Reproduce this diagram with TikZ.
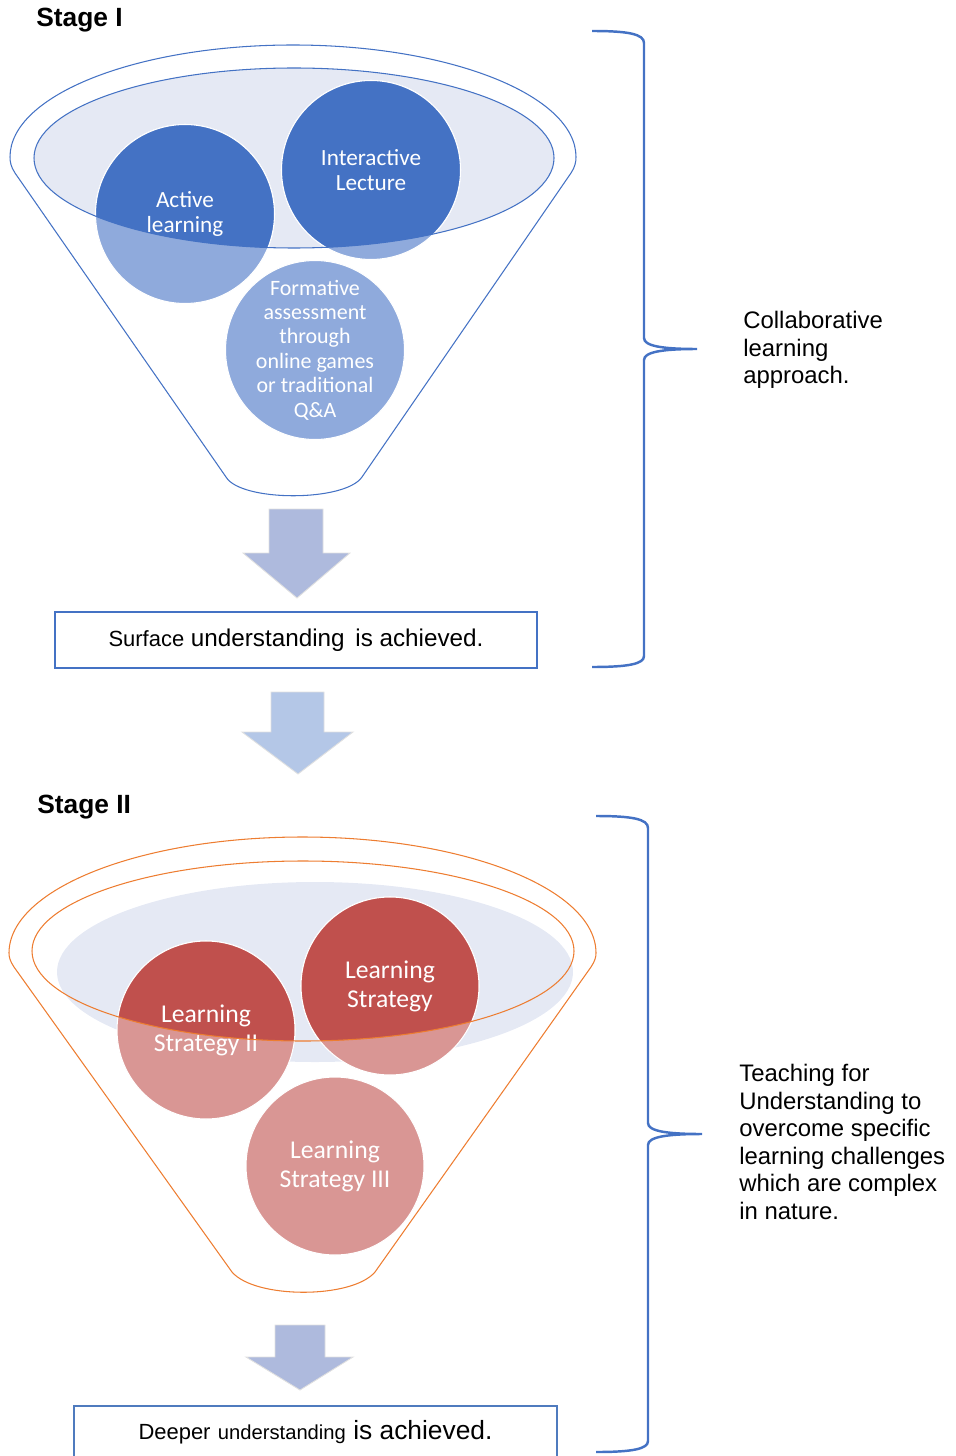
\documentclass[tikz,border=0pt]{standalone}
\usepackage{fontspec}
\setmainfont{Liberation Sans}
\newfontfamily\carlito{Carlito}
\usetikzlibrary{backgrounds}

\definecolor{wordblue}{HTML}{4472C4}
\definecolor{paleblue}{HTML}{8FAADC}
\definecolor{rimfill}{HTML}{E5E9F4}
\definecolor{arrowblue}{HTML}{AEBADD}
\definecolor{arrowsky}{HTML}{B4C7E7}
\definecolor{wordred}{HTML}{C0504D}
\definecolor{palered}{HTML}{D99694}
\definecolor{wordorange}{HTML}{ED7D31}
\definecolor{boxblue}{HTML}{4F7BBE}

\begin{document}
\begin{tikzpicture}[
		x=0.02cm, y=-0.02cm,
		stage/.style={anchor=west, inner sep=0pt, font=\fontsize{15}{18}\selectfont\bfseries},
		bubble/.style={inner sep=0pt, align=center, text=white, font=\carlito\fontsize{13.2}{13.8}\selectfont},
		funnel/.style={line width=0.6pt},
		result/.style={draw, line width=1.2pt, inner sep=0pt},
		blockarrow/.style={draw=black!12, line width=0.5pt},
		bracket/.style={draw=wordblue, line width=1.4pt},
		note/.style={anchor=west, inner sep=0pt, align=left, font=\fontsize{13.6}{15.7}\selectfont},
	]
	\useasboundingbox (0,0) rectangle (956,1456);
	\clip (0,0) rectangle (956,1456);

	% Stage I
	\node[stage] (stageone) at (36,20) {Stage I};
	\draw[funnel, draw=wordblue] (15,173) .. controls (11,167) and (10,162) .. (10,157)
		arc[start angle=180, end angle=360, x radius=283, y radius=112]
		.. controls (576,162) and (575,167) .. (571,173) -- (362,477)
		.. controls (345,502) and (241,502) .. (226,477) -- cycle;

	\node[bubble] (al) at (185,214) {Active\\learning};
	\node[bubble] (il) at (371,170) {Interactive\\Lecture};
	\node[bubble, font=\carlito\fontsize{12.5}{13.9}\selectfont] (fa) at (315,350) {Formative\\assessment\\through\\online games\\or traditional\\Q\&A};
	\draw[funnel, draw=wordblue] (294,158) ellipse [x radius=260, y radius=90];

	\begin{scope}[on background layer]
		\fill[rimfill] (294,158) ellipse [x radius=260, y radius=90];
		\foreach \c in {al,il,fa}
			\filldraw[fill=paleblue, draw=white, line width=0.6pt] (\c.center) circle [radius=89.5];
		\begin{scope}
			\clip (294,158) ellipse [x radius=260, y radius=90];
			\foreach \c in {al,il}
				\filldraw[fill=wordblue, draw=white, line width=0.6pt] (\c.center) circle [radius=89.5];
		\end{scope}
	\end{scope}

	\draw[blockarrow, fill=arrowblue] (269,509) -- (323,509) -- (323,553) -- (350,553) -- (297,598) -- (243,553) -- (269,553) -- cycle;
	\node[result, draw=wordblue, minimum width=9.64cm, minimum height=1.12cm, font=\fontsize{13.8}{16}\selectfont] (surf) at (296,640)
		{{\fontsize{12.5}{15}\selectfont Surface} understanding~\,is achieved.};
	\draw[blockarrow, fill=arrowsky] (271,692) -- (324,692) -- (324,732) -- (353,732) -- (298,774) -- (242,732) -- (271,732) -- cycle;

	% Stage II
	\node[stage] (stagetwo) at (37,807) {Stage II};
	\draw[funnel, draw=wordorange] (14,967) .. controls (10,961) and (9,957) .. (9,953)
		arc[start angle=180, end angle=360, x radius=293.5, y radius=116]
		.. controls (596,957) and (595,961) .. (591,967) -- (375,1272)
		.. controls (352,1299) and (255,1299) .. (232,1272) -- cycle;

	\node[bubble, font=\carlito\fontsize{14.6}{16.4}\selectfont] (ls1) at (390,986) {Learning\\Strategy};
	\node[bubble, font=\carlito\fontsize{14.6}{16.4}\selectfont] (ls2) at (206,1030) {Learning\\Strategy II};
	\node[bubble, font=\carlito\fontsize{14.6}{16.4}\selectfont] (ls3) at (335,1166) {Learning\\Strategy III};
	\draw[funnel, draw=wordorange] (303,951) ellipse [x radius=271, y radius=90];

	\begin{scope}[on background layer]
		\fill[rimfill] (315,972) ellipse [x radius=258, y radius=90];
		\foreach \c in {ls1,ls2,ls3}
			\filldraw[fill=palered, draw=white, line width=0.6pt] (\c.center) circle [radius=89];
		\begin{scope}
			\clip (303,951) ellipse [x radius=271, y radius=90];
			\foreach \c in {ls1,ls2}
				\filldraw[fill=wordred, draw=white, line width=0.6pt] (\c.center) circle [radius=89];
		\end{scope}
	\end{scope}

	\draw[blockarrow, fill=arrowblue] (275,1325) -- (325,1325) -- (325,1357) -- (353,1357) -- (300,1390) -- (246,1357) -- (275,1357) -- cycle;
	\node[result, draw=boxblue, minimum width=9.66cm, minimum height=1.06cm, font=\fontsize{15}{17}\selectfont] (deep) at (315.5,1432.5)
		{{\fontsize{12.5}{14}\selectfont Deeper} {\fontsize{11.5}{14}\selectfont understanding} is achieved.};

	% braces and notes
	\draw[bracket] (592,31) .. controls (628,31) and (644,34) .. (644,43) -- (644,338)
		.. controls (644,346) and (662,349) .. (697,349)
		.. controls (662,349) and (644,352) .. (644,360) -- (644,656)
		.. controls (644,664) and (628,667) .. (592,667);
	\node[note] (collab) at (743,350) {Collaborative\\learning\\approach.};

	\draw[bracket] (596,816) .. controls (632,816) and (648,819) .. (648,828) -- (648,1123)
		.. controls (648,1131) and (666,1134) .. (702,1134)
		.. controls (666,1134) and (648,1137) .. (648,1145) -- (648,1441)
		.. controls (648,1449) and (632,1452) .. (596,1452);
	\node[note] (tfu) at (739,1142) {Teaching for\\Understanding to\\overcome specific\\learning challenges\\which are complex\\in nature.};
\end{tikzpicture}
\end{document}
